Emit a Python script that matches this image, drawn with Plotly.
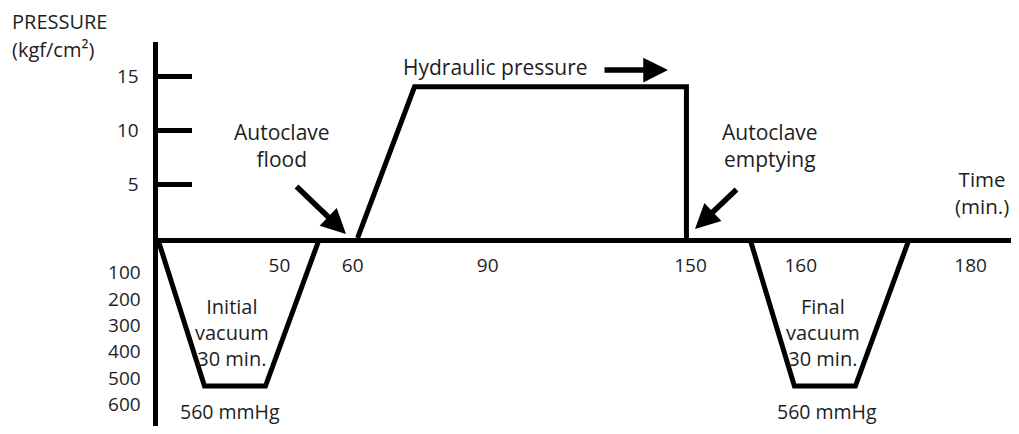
import plotly.graph_objects as go

# ---------------- data (schematic time units along the drawn axis) ----------------
# Hydraulic pressure profile (kgf/cm²)
pressure_time = [44.3, 56.9, 117.1, 117.1]
pressure_kgf = [0, 14, 14, 0]

# Initial vacuum profile (mmHg)
init_vac_time = [0, 10.4, 23.9, 35.9]
init_vac_mmhg = [0, 560, 560, 0]

# Final vacuum profile (mmHg)
final_vac_time = [131.1, 141.0, 154.5, 166.5]
final_vac_mmhg = [0, 560, 560, 0]

# Time axis tick labels (placed at their schematic positions)
time_tick_pos = [27.0, 43.2, 73.1, 118.0, 142.4, 180.0]
time_tick_text = ["50", "60", "90", "150", "160", "180"]

# Pressure and vacuum tick labels
pressure_ticks = [5, 10, 15]
vacuum_ticks = [100, 200, 300, 400, 500, 600]

# ---------------- layout helpers ----------------
OX, OY = 8, 8                 # page body margin
W, H = 1019 - 2 * OX, 434 - 2 * OY
FONT = "Open Sans"
TXT = "#1e1e1e"
LW = 5


def px(x):
    return (x - OX) / W


def py(y):
    return 1 - (y - OY) / H


x0_px, zero_px, top_px = 157.5, 238, 42
x_scale = 4.517      # px per schematic minute
p_scale = 10.8       # px per kgf/cm²
v_scale = 0.2643     # px per mmHg
bottom_px = OY + H

fig = go.Figure()

line_style = dict(color="black", width=LW)
fig.add_trace(go.Scatter(x=pressure_time, y=pressure_kgf, mode="lines",
                         line=line_style, xaxis="x", yaxis="y",
                         hoverinfo="skip", showlegend=False))
fig.add_trace(go.Scatter(x=init_vac_time, y=init_vac_mmhg, mode="lines",
                         line=line_style, xaxis="x", yaxis="y2",
                         hoverinfo="skip", showlegend=False))
fig.add_trace(go.Scatter(x=final_vac_time, y=final_vac_mmhg, mode="lines",
                         line=line_style, xaxis="x", yaxis="y2",
                         hoverinfo="skip", showlegend=False))

fig.update_layout(
    width=W, height=H,
    margin=dict(l=0, r=0, t=0, b=0),
    paper_bgcolor="white", plot_bgcolor="white",
    font=dict(family=FONT, size=19, color=TXT),
    showlegend=False,
    xaxis=dict(
        domain=[px(x0_px), 1],
        range=[0, (OX + W - x0_px) / x_scale],
        anchor="y",
        showline=True, linecolor="black", linewidth=LW,
        showgrid=False, zeroline=False,
        tickmode="array", tickvals=time_tick_pos, ticktext=time_tick_text,
        ticks="", ticklabelstandoff=6,
        tickfont=dict(family=FONT, size=19, color=TXT),
    ),
    yaxis=dict(
        domain=[py(zero_px), py(top_px)],
        range=[0, (zero_px - top_px) / p_scale],
        anchor="x",
        showline=True, linecolor="black", linewidth=LW,
        showgrid=False, zeroline=False,
        tickmode="array", tickvals=pressure_ticks,
        ticks="inside", ticklen=34, tickwidth=LW, tickcolor="black",
        ticklabelstandoff=10,
        tickfont=dict(family=FONT, size=19, color=TXT),
    ),
    yaxis2=dict(
        domain=[0, py(zero_px)],
        range=[(bottom_px - zero_px) / v_scale, 0],
        anchor="x",
        showline=True, linecolor="black", linewidth=LW,
        showgrid=False, zeroline=False,
        tickmode="array", tickvals=vacuum_ticks,
        ticks="", ticklabelstandoff=8, ticklabelshift=-8,
        tickfont=dict(family=FONT, size=19, color=TXT),
    ),
)

texts = [
    ("PRESSURE", 10, 22, "left", 20),
    ("(kgf/cm²)", 10, 49, "left", 20),
    ("Hydraulic pressure", 495, 67, "center", 21),
    ("Autoclave<br>flood", 282, 145, "center", 21),
    ("Autoclave<br>emptying", 770, 145, "center", 21),
    ("Time<br>(min.)", 982, 192, "center", 20.5),
    ("Initial<br>vacuum<br>30 min.", 232, 332, "center", 20),
    ("Final<br>vacuum<br>30 min.", 823, 332, "center", 20),
    ("560 mmHg", 230, 411, "center", 19.5),
    ("560 mmHg", 827, 411, "center", 19.5),
]
for t, x, y, anc, fs in texts:
    fig.add_annotation(text=t, x=px(x), y=py(y), xref="paper", yref="paper",
                       xanchor=anc, yanchor="middle", showarrow=False,
                       align="center", font=dict(family=FONT, size=fs, color=TXT))

arrows = [
    (668, 70, -65, 0),     # hydraulic pressure arrow
    (346, 234, -51, -49),  # autoclave flood
    (695, 229, 43, -41),   # autoclave emptying
]
for x, y, ax, ay in arrows:
    fig.add_annotation(text="", x=px(x), y=py(y), xref="paper", yref="paper",
                       ax=ax, ay=ay, axref="pixel", ayref="pixel",
                       showarrow=True, arrowhead=2, arrowsize=0.9,
                       arrowwidth=5.5, arrowcolor="black", standoff=0)

fig.write_html("out.html")
